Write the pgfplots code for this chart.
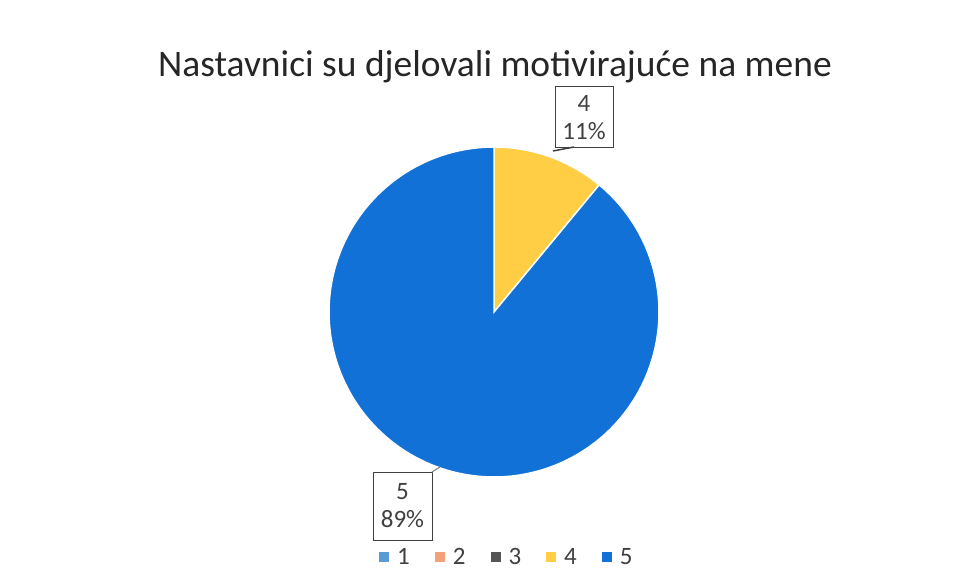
\documentclass[border=0pt]{standalone}
\usepackage{pgfplots}
\pgfplotsset{compat=1.18}
\usepackage{fontspec}
\setmainfont{Carlito}
\definecolor{cA}{HTML}{5B9BD5}
\definecolor{cB}{HTML}{F4A07A}
\definecolor{cC}{HTML}{555555}
\definecolor{cD}{HTML}{FFCE45}
\definecolor{cE}{HTML}{1271D6}
\definecolor{lbl}{HTML}{404040}
\begin{document}
\begin{tikzpicture}
% shares of answers 1..5 (percent)
\def\vA{0}\def\vB{0}\def\vC{0}\def\vD{11}\def\vE{89}
\pgfmathsetmacro\aD{3.6*\vD}
\pgfmathsetmacro\aE{\aD+3.6*\vE}
\begin{axis}[
  width=960pt, height=577pt, scale only axis,
  xmin=0, xmax=960, ymin=0, ymax=577, y dir=reverse,
  axis lines=none, ticks=none, clip=false,
  legend columns=5,
  legend image code/.code={\fill[#1, draw=none] (0pt,-5pt) rectangle (10pt,5pt);},
  legend style={at={(0.528,0.034)}, anchor=center, draw=none, fill=none,
    font=\fontsize{25}{28}\selectfont, text=lbl,
    /tikz/every even column/.append style={column sep=23pt},
    /tikz/every odd column/.append style={column sep=6pt}},
]
\path (rel axis cs:0,0) rectangle (rel axis cs:1,1);
\addplot[forget plot, fill=cD, draw=white, line width=1.5pt, domain=0:\aD, samples=40]
  ({494+165*sin(x)},{312-165*cos(x)}) -- (axis cs:494,312) -- cycle;
\addplot[forget plot, fill=cE, draw=white, line width=1.5pt, domain=\aD:\aE, samples=240]
  ({494+165*sin(x)},{312-165*cos(x)}) -- (axis cs:494,312) -- cycle;
\addlegendimage{fill=cA}\addlegendentry{1}
\addlegendimage{fill=cB}\addlegendentry{2}
\addlegendimage{fill=cC}\addlegendentry{3}
\addlegendimage{fill=cD}\addlegendentry{4}
\addlegendimage{fill=cE}\addlegendentry{5}
\node[anchor=base, font=\fontsize{37.5}{44}\selectfont, text=black!85] at (axis cs:495,77) {Nastavnici su djelovali motivirajuće na mene};
\node[draw=lbl, line width=1pt, align=center, font=\fontsize{25}{28}\selectfont, text=lbl,
  minimum width=58pt, minimum height=61pt, inner sep=0pt] at (axis cs:584,117.5) {4\\11\%};
\draw[lbl, line width=1.5pt] (axis cs:553,151) -- (axis cs:574,147);
\node[draw=lbl, line width=1pt, align=center, font=\fontsize{25}{28}\selectfont, text=lbl,
  minimum width=59pt, minimum height=68pt, inner sep=0pt] at (axis cs:402.5,506) {5\\89\%};
\draw[lbl!60, line width=1.2pt] (axis cs:432,472) -- (axis cs:440,467);
\end{axis}
\end{tikzpicture}
\end{document}
